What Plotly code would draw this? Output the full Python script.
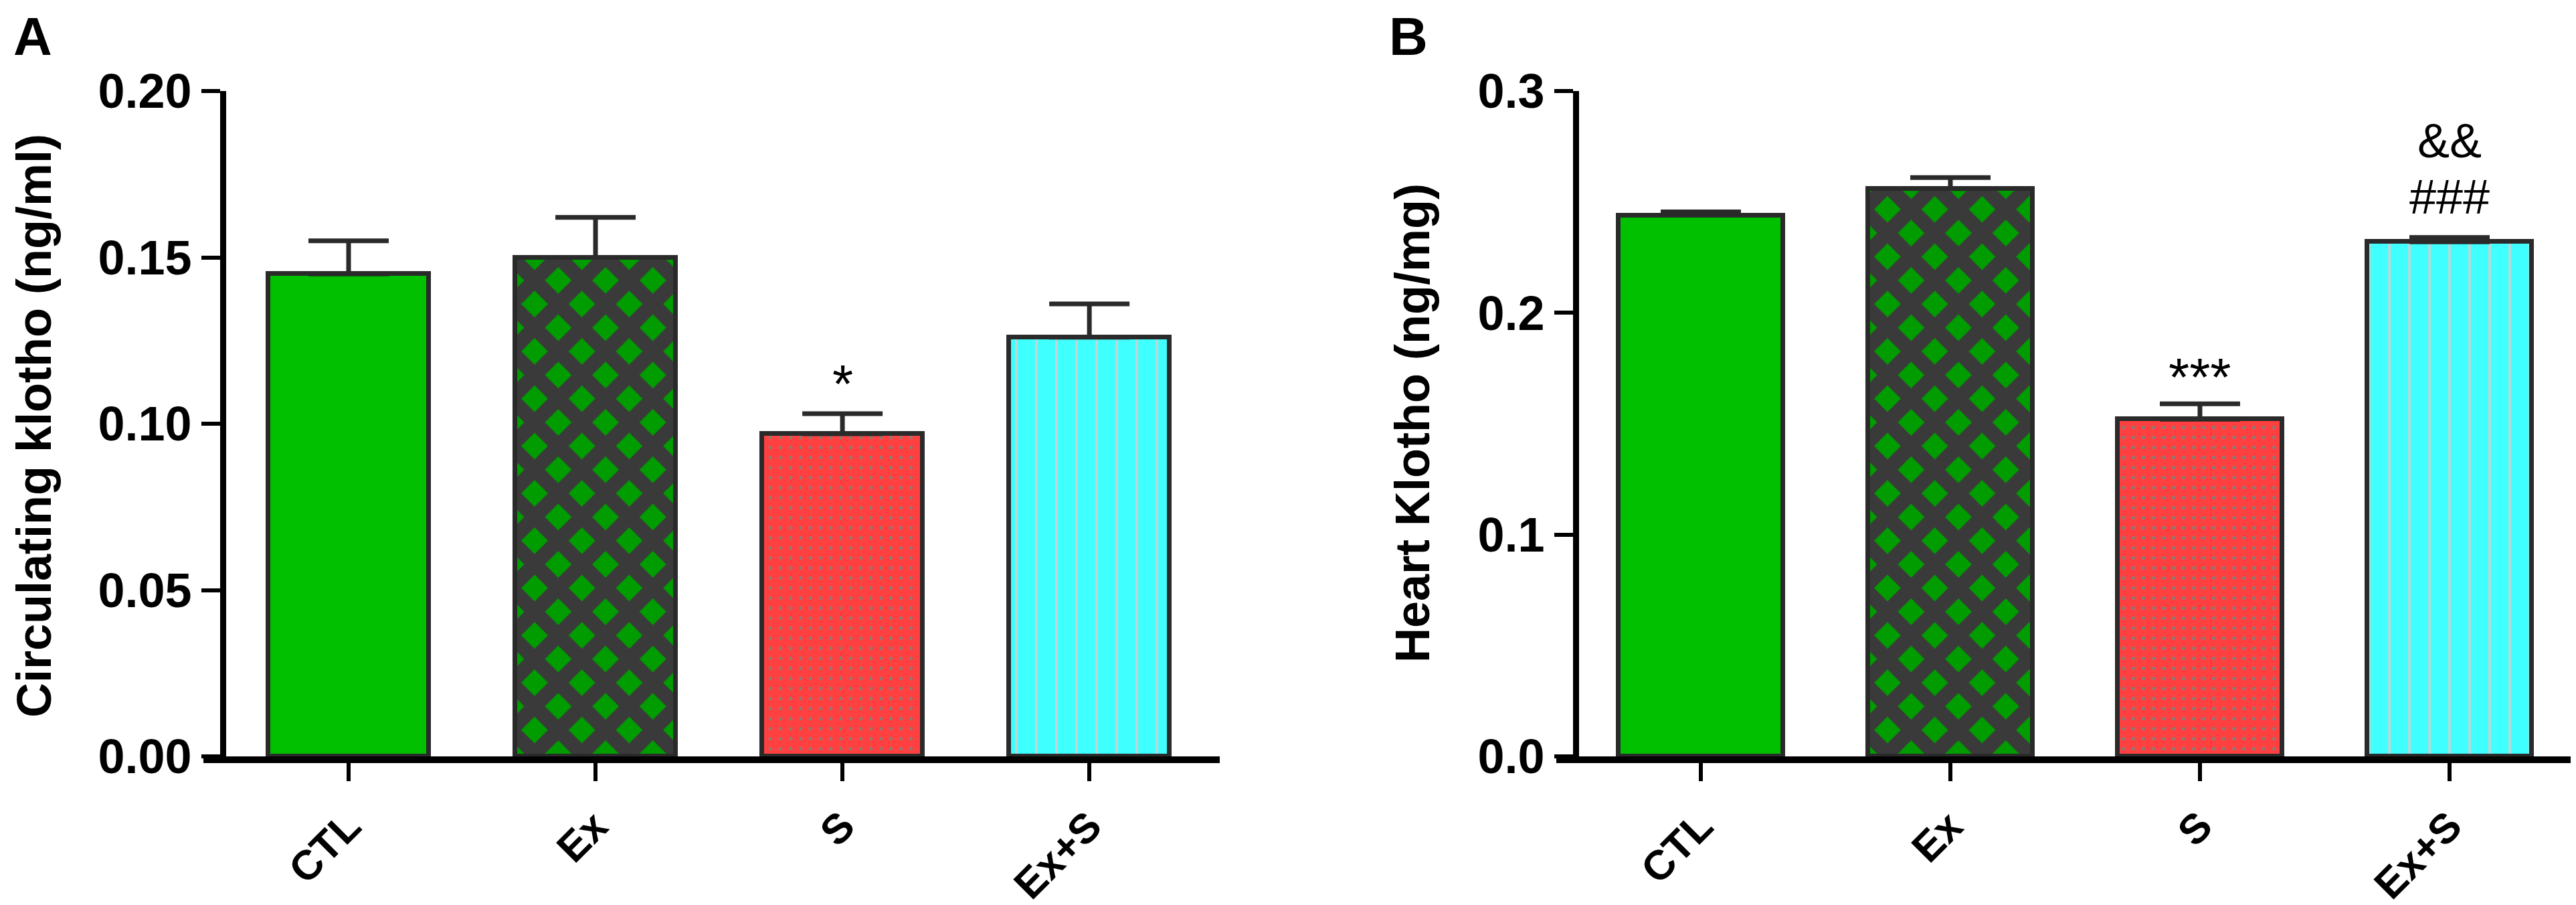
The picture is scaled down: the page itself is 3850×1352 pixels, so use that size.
import plotly.graph_objects as go

W, H = 3850, 1352

categories = ["CTL", "Ex", "S", "Ex+S"]

# Panel A: circulating klotho (ng/ml)
a_mean = [0.145, 0.150, 0.097, 0.126]
a_sem = [0.010, 0.012, 0.006, 0.010]
a_ticks = [0.00, 0.05, 0.10, 0.15, 0.20]

# Panel B: heart klotho (ng/mg)
b_mean = [0.244, 0.256, 0.152, 0.232]
b_sem = [0.0015, 0.005, 0.007, 0.002]
b_ticks = [0.0, 0.1, 0.2, 0.3]

# significance marks: (category, y, text)
sig_a = [("S", 0.112, "*")]
sig_b = [("S", 0.171, "***"), ("Ex+S", 0.2524, "###"), ("Ex+S", 0.2777, "&&")]

FONT = "Liberation Sans, Arial, sans-serif"
DARK = "#2a2a2a"

fills = [
    dict(color="#00C000", pattern=dict(shape="")),
    dict(color="#009C00", pattern=dict(shape="x", fgcolor="#3a3a3a", bgcolor="#009C00",
                                        size=50, solidity=0.68, fillmode="replace")),
    dict(color="#FF4040", pattern=dict(shape=".", fgcolor="#8a7c74", bgcolor="#FF4040",
                                        size=15, solidity=0.09, fillmode="replace")),
    dict(color="#40FFFF", pattern=dict(shape="|", fgcolor="#C4D4D4", bgcolor="#40FFFF",
                                        size=30, solidity=0.12, fillmode="replace")),
]

fig = go.Figure()

def add_panel(means, sems, xa, ya, width):
    for i, cat in enumerate(categories):
        f = fills[i]
        fig.add_trace(go.Bar(
            x=[cat], y=[means[i]], width=width,
            marker=dict(color=f["color"], pattern=f["pattern"],
                        line=dict(color=DARK, width=7)),
            error_y=dict(type="data", symmetric=False, array=[sems[i]], arrayminus=[0],
                         color=DARK, thickness=7, width=60),
            xaxis=xa, yaxis=ya, showlegend=False,
        ))

add_panel(a_mean, a_sem, "x", "y", 0.65)
add_panel(b_mean, b_sem, "x2", "y2", 0.66)

y0 = (H - 1122) / H
y1 = (H - 128) / H

tickfont = dict(family=FONT, size=72, color="black", weight="bold")
xtickfont = dict(family=FONT, size=62, color="black", weight="bold")

common_x = dict(type="category", categoryorder="array", categoryarray=categories,
                showline=True, linecolor="black", linewidth=10, ticks="outside",
                ticklen=27, tickwidth=6, tickcolor="black", tickangle=-45,
                ticklabelstandoff=6, automargin=False,
                tickfont=xtickfont, showgrid=False, zeroline=False, fixedrange=True)
common_y = dict(showline=True, linecolor="black", linewidth=9, ticks="outside",
                ticklen=28, tickwidth=6, tickcolor="black", tickfont=tickfont,
                automargin=False,
                showgrid=False, zeroline=False, domain=[y0, y1], anchor="free")

fig.update_layout(
    width=W, height=H,
    margin=dict(l=0, r=0, t=0, b=0, autoexpand=False),
    paper_bgcolor="white", plot_bgcolor="white",
    bargap=0,
    xaxis=dict(common_x, domain=[296 / W, 1815 / W], range=[-0.588, 3.528], anchor="y"),
    yaxis=dict(common_y, range=[0, 0.20], tickvals=a_ticks, tickformat=".2f",
               position=325 / W),
    xaxis2=dict(common_x, domain=[2318 / W, 3838 / W], range=[-0.579, 3.496], anchor="y2"),
    yaxis2=dict(common_y, range=[0, 0.30], tickvals=b_ticks, tickformat=".1f",
                position=2347 / W),
)

ann = []
# axis titles
ann.append(dict(text="Circulating klotho (ng/ml)", xref="paper", yref="paper",
                x=43 / W, y=(H - 628) / H, textangle=-90, showarrow=False,
                font=dict(family=FONT, size=72, color="black", weight="bold"),
                xanchor="center", yanchor="middle"))
ann.append(dict(text="Heart Klotho (ng/mg)", xref="paper", yref="paper",
                x=2103 / W, y=(H - 624) / H, textangle=-90, showarrow=False,
                font=dict(family=FONT, size=72, color="black", weight="bold"),
                xanchor="center", yanchor="middle"))
# panel letters
ann.append(dict(text="A", xref="paper", yref="paper", x=10 / W, y=1.0,
                showarrow=False, xanchor="left", yanchor="top",
                font=dict(family=FONT, size=80, color="black", weight="bold")))
ann.append(dict(text="B", xref="paper", yref="paper", x=2066 / W, y=1.0,
                showarrow=False, xanchor="left", yanchor="top",
                font=dict(family=FONT, size=80, color="black", weight="bold")))
# significance marks
for cat, yv, t in sig_a:
    ann.append(dict(text=t, x=cat, y=yv, xref="x", yref="y", showarrow=False,
                    xanchor="center", yanchor="middle",
                    font=dict(family=FONT, size=80, color="black")))
for cat, yv, t in sig_b:
    ann.append(dict(text=t, x=cat, y=yv, xref="x2", yref="y2", showarrow=False,
                    xanchor="center", yanchor="middle",
                    font=dict(family=FONT, size=(80 if t == "***" else 72), color="black")))
fig.update_layout(annotations=ann)

fig.write_html("out.html")
